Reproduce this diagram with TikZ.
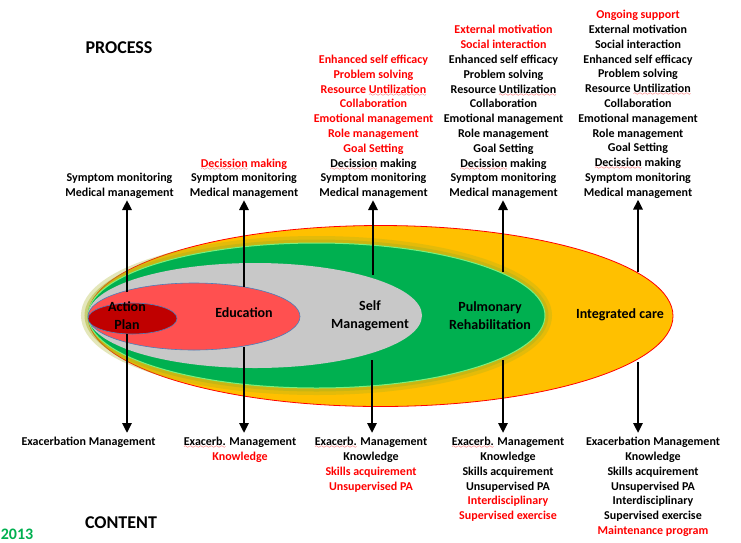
\documentclass[tikz,border=0pt]{standalone}
\usepackage{fontspec}
\setmainfont{Carlito}
\usepackage{xcolor}
\usepackage{tikz}
\usetikzlibrary{arrows.meta,shapes.geometric}
\definecolor{carered}{HTML}{FF0000}
\definecolor{caregreen}{HTML}{00B050}
\definecolor{careyellow}{HTML}{FFC000}
\definecolor{caregray}{HTML}{C8C8C8}
\definecolor{edured}{HTML}{FF5050}
\definecolor{actred}{HTML}{C00000}
\definecolor{rimblue}{HTML}{4A7EBB}
\definecolor{rimgreen}{HTML}{7CF07C}
\definecolor{glowolive}{HTML}{A8B020}
\font\spellwavefont=lasy6
\newcommand\nw[1]{\textcolor{carered}{#1}}
\newcommand\spellmark[1]{\setbox0\hbox{#1}\rlap{\textcolor{carered}{\lower3pt\hbox to\wd0{\xleaders\hbox{\spellwavefont\char58}\hfil}}}#1}
\tikzset{
  phase/.style={ellipse, inner sep=0pt},
  phaselabel/.style={font=\bfseries\fontsize{14}{18}\selectfont, align=center},
  itemlist/.style={font=\bfseries\fontsize{12}{14.8}\selectfont, align=center, inner sep=1pt},
  axislabel/.style={font=\bfseries\fontsize{18}{20}\selectfont},
  linkarrow/.style={-{Triangle[width=9pt,length=10pt]}, line width=2.8pt}
}
\begin{document}
\begin{tikzpicture}[x=1pt,y=-1pt]
  \useasboundingbox[fill=white] (0,0) rectangle (741,542);

  % nested care phases
  \node[phase, fill=careyellow, draw=carered, line width=0.8pt, minimum width=585pt, minimum height=181pt] (integ) at (380.5,316) {};
  \node[phase, draw=glowolive, draw opacity=0.3, line width=14pt, minimum width=457pt, minimum height=145pt] (glowwide) at (316.5,315.5) {};
  \node[phase, draw=glowolive, draw opacity=0.45, line width=7pt, minimum width=457pt, minimum height=145pt] (glownarrow) at (316.5,315.5) {};
  \node[phase, fill=caregreen, draw=rimgreen, line width=1pt, minimum width=457pt, minimum height=145pt] (pulm) at (316.5,315.5) {};
  \node[phase, fill=caregray, minimum width=334pt, minimum height=105pt] (selfm) at (255,315.5) {};
  \node[phase, fill=edured, draw=rimblue, line width=0.6pt, minimum width=212pt, minimum height=67pt] (edu) at (194,316.5) {};
  \node[phase, fill=actred, draw=rimblue, line width=0.6pt, minimum width=89pt, minimum height=31pt] (action) at (132.5,318.5) {};

  \node[phaselabel] (actionlbl) at (127,315.5) {Action\\Plan};
  \node[phaselabel] (edulbl) at (244,313) {Education};
  \node[phaselabel] (selflbl) at (370,315.5) {Self\\Management};
  \node[phaselabel] (pulmlbl) at (490,315.5) {Pulmonary\\Rehabilitation};
  \node[phaselabel] (integlbl) at (620,315) {Integrated care};

  % process lists
  \node[itemlist, anchor=south] (procaction) at (119.5,200) {Symptom monitoring\\Medical management};
  \node[itemlist, anchor=south] (procedu) at (244,200) {\nw{\spellmark{Decission} making}\\Symptom monitoring\\Medical management};
  \node[itemlist, anchor=south] (procself) at (373.5,200) {\nw{Enhanced self efficacy}\\\nw{Problem solving}\\\nw{Resource \spellmark{Untilization}}\\\nw{Collaboration}\\\nw{Emotional management}\\\nw{Role management}\\\nw{Goal Setting}\\\spellmark{Decission} making\\Symptom monitoring\\Medical management};
  \node[itemlist, anchor=south] (procpulm) at (503.5,200) {\nw{External motivation}\\\nw{Social interaction}\\Enhanced self efficacy\\Problem solving\\Resource \spellmark{Untilization}\\Collaboration\\Emotional management\\Role management\\Goal Setting\\\spellmark{Decission} making\\Symptom monitoring\\Medical management};
  \node[itemlist, anchor=south] (procinteg) at (638,199.5) {\nw{Ongoing support}\\External motivation\\Social interaction\\Enhanced self efficacy\\Problem solving\\Resource \spellmark{Untilization}\\Collaboration\\Emotional management\\Role management\\Goal Setting\\\spellmark{Decission} making\\Symptom monitoring\\Medical management};

  % content lists
  \node[itemlist, anchor=north] (contaction) at (88.5,436) {Exacerbation Management};
  \node[itemlist, anchor=north] (contedu) at (240,436) {\spellmark{Exacerb.} Management\\\nw{Knowledge}};
  \node[itemlist, anchor=north] (contself) at (371,436) {\spellmark{Exacerb.} Management\\Knowledge\\\nw{Skills acquirement}\\\nw{Unsupervised PA}};
  \node[itemlist, anchor=north] (contpulm) at (508,436) {\spellmark{Exacerb.} Management\\Knowledge\\Skills acquirement\\Unsupervised PA\\\nw{Interdisciplinary}\\\nw{Supervised exercise}};
  \node[itemlist, anchor=north] (continteg) at (653,436) {Exacerbation Management\\Knowledge\\Skills acquirement\\Unsupervised PA\\Interdisciplinary\\Supervised exercise\\\nw{Maintenance program}};

  % arrow feet on the phase rims
  \coordinate (actup) at (127,292);
  \coordinate (actdown) at (127,334);
  \coordinate (eduup) at (244,287);
  \coordinate (edudown) at (244,347);
  \coordinate (selfup) at (373,275);
  \coordinate (selfdown) at (372,360);
  \coordinate (pulmup) at (503,272);
  \coordinate (pulmdown) at (503,360);
  \coordinate (integup) at (638,272);
  \coordinate (integdown) at (638,362);

  \draw[linkarrow] (actup) -- (actup |- procaction.south);
  \draw[linkarrow, shorten >=3pt] (actdown) -- (actdown |- contaction.north);
  \draw[linkarrow] (eduup) -- (eduup |- procedu.south);
  \draw[linkarrow, shorten >=3pt] (edudown) -- (edudown |- contedu.north);
  \draw[linkarrow] (selfup) -- (selfup |- procself.south);
  \draw[linkarrow, shorten >=3pt] (selfdown) -- (selfdown |- contself.north);
  \draw[linkarrow] (pulmup) -- (pulmup |- procpulm.south);
  \draw[linkarrow, shorten >=3pt] (pulmdown) -- (pulmdown |- contpulm.north);
  \draw[linkarrow] (integup) -- (integup |- procinteg.south);
  \draw[linkarrow, shorten >=3pt] (integdown) -- (integdown |- continteg.north);

  \node[axislabel] (process) at (119,48) {PROCESS};
  \node[axislabel] (content) at (121,523) {CONTENT};
  \node[font=\bfseries\fontsize{16}{18}\selectfont, text=caregreen] (year) at (17,534) {2013};
\end{tikzpicture}
\end{document}
